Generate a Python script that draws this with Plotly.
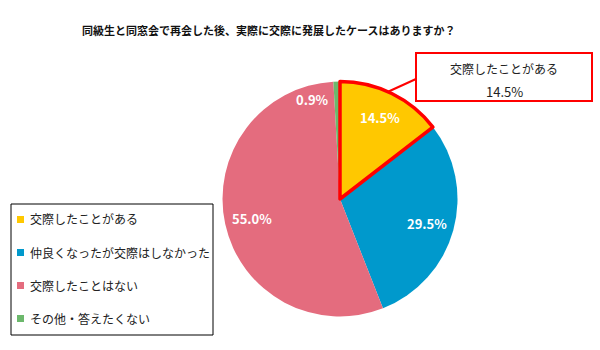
import math
import plotly.graph_objects as go

# Survey answers and their shares (%)
labels = ["交際したことがある", "仲良くなったが交際はしなかった", "交際したことはない", "その他・答えたくない"]
values = [14.5, 29.5, 55.0, 0.9]
colors = ["#FFC800", "#0099CC", "#E46C7E", "#6CB86C"]
title_text = "同級生と同窓会で再会した後、実際に交際に発展したケースはありますか？"

W, H = 600, 350
CX, CY, R = 340, 199, 117.5  # pie centre and radius in pixels
FONT = "Noto Sans CJK JP, Noto Sans, sans-serif"


def px(x):
    return x / W


def py(y):
    return 1 - y / H


domain = dict(x=[px(CX - R), px(CX + R)], y=[py(CY + R), py(CY - R)])

fig = go.Figure()
fig.add_trace(go.Pie(
    labels=labels, values=values, sort=False, direction="clockwise", rotation=0,
    marker=dict(colors=colors, line=dict(width=0)),
    textinfo="none", hoverinfo="label+percent", showlegend=False, domain=domain,
))
# Outline overlay that highlights the first slice
fig.add_trace(go.Pie(
    labels=labels, values=values, sort=False, direction="clockwise", rotation=0,
    marker=dict(colors=["rgba(0,0,0,0)"] * len(values),
                line=dict(color=["#FF0000"] + ["rgba(0,0,0,0)"] * (len(values) - 1),
                          width=[3.5] + [0] * (len(values) - 1))),
    textinfo="none", hoverinfo="skip", showlegend=False, domain=domain,
))

annotations = []
shapes = []

# Percentage labels placed at each slice's mid-angle
total = sum(values)
start = 0.0
mids = []
for v in values:
    frac = v / total
    mid = (start + frac / 2) * 360
    mids.append(mid)
    if frac < 0.03:
        ang, rr = mid - 14, 0.88 * R
    else:
        ang, rr = mid, 0.77 * R
    x = CX + rr * math.sin(math.radians(ang))
    y = CY - rr * math.cos(math.radians(ang))
    annotations.append(dict(
        x=px(x), y=py(y), xref="paper", yref="paper", showarrow=False,
        text=f"{v:.1f}%", font=dict(family=FONT, size=13, color="white", weight="bold"),
        xanchor="center", yanchor="middle",
    ))
    start += frac

# Callout for the highlighted slice
bx0, by0, bx1, by1 = 416, 53, 592, 101
shapes.append(dict(type="rect", xref="paper", yref="paper",
                   x0=px(bx0), x1=px(bx1), y0=py(by1), y1=py(by0),
                   line=dict(color="#FF0000", width=2), fillcolor="white"))
ex = CX + R * math.sin(math.radians(mids[0] - 2))
ey = CY - R * math.cos(math.radians(mids[0] - 2))
shapes.append(dict(type="line", xref="paper", yref="paper",
                   x0=px(bx0), y0=py(79), x1=px(ex), y1=py(ey),
                   line=dict(color="#FF0000", width=2)))
annotations.append(dict(x=px((bx0 + bx1) / 2), y=py(68), xref="paper", yref="paper",
                        showarrow=False, text=labels[0],
                        font=dict(family=FONT, size=12, color="#222222"),
                        xanchor="center", yanchor="middle"))
annotations.append(dict(x=px((bx0 + bx1) / 2), y=py(91), xref="paper", yref="paper",
                        showarrow=False, text=f"{values[0]:.1f}%",
                        font=dict(family=FONT, size=13, color="#222222"),
                        xanchor="center", yanchor="middle"))

# Legend box
lx0, ly0, lx1, ly1 = 11, 204, 213, 335
shapes.append(dict(type="rect", xref="paper", yref="paper",
                   x0=px(lx0), x1=px(lx1), y0=py(ly1), y1=py(ly0),
                   line=dict(color="#000000", width=1), fillcolor="rgba(0,0,0,0)"))
for i, (lab, col) in enumerate(zip(labels, colors)):
    yc = 219 + i * 33
    shapes.append(dict(type="rect", xref="paper", yref="paper",
                       x0=px(17), x1=px(24), y0=py(yc + 4), y1=py(yc - 3),
                       line=dict(width=0), fillcolor=col))
    annotations.append(dict(x=px(28), y=py(yc), xref="paper", yref="paper",
                            showarrow=False, text=lab,
                            font=dict(family=FONT, size=12, color="#222222"),
                            xanchor="left", yanchor="middle"))

# Title
annotations.append(dict(x=px(268), y=py(30), xref="paper", yref="paper",
                        showarrow=False, text=title_text,
                        font=dict(family=FONT, size=11, color="#111111", weight="bold"),
                        xanchor="center", yanchor="middle"))

fig.update_layout(
    width=W, height=H, margin=dict(l=0, r=0, t=0, b=0),
    paper_bgcolor="white", plot_bgcolor="white",
    showlegend=False, annotations=annotations, shapes=shapes,
)

fig.write_html("out.html")
